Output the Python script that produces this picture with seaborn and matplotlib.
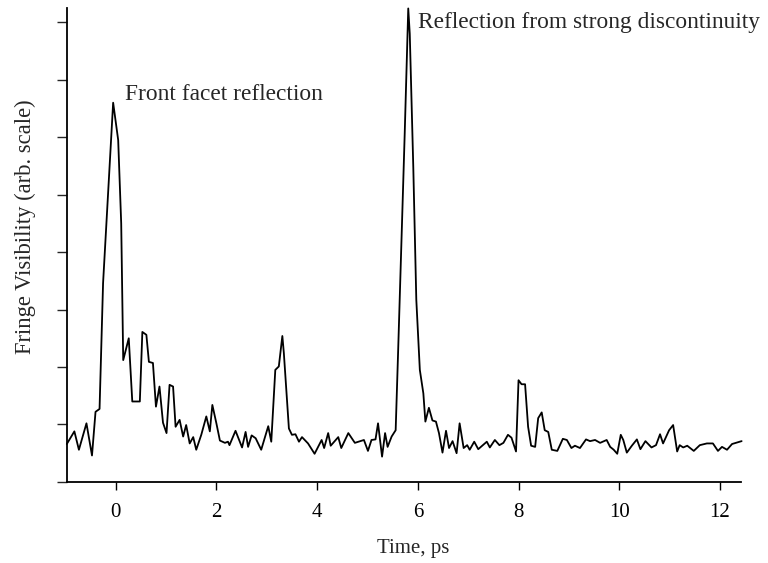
import pandas as pd
import seaborn as sns
import matplotlib.pyplot as plt

# values
time_ps = [-0.97, -0.82, -0.73, -0.58, -0.47, -0.40, -0.32, -0.25, -0.05, 0.05,
           0.11, 0.15, 0.26, 0.33, 0.48, 0.53, 0.61, 0.66, 0.74, 0.80,
           0.87, 0.94, 1.01, 1.07, 1.14, 1.19, 1.27, 1.34, 1.40, 1.47,
           1.54, 1.60, 1.70, 1.80, 1.87, 1.92, 2.00, 2.07, 2.17, 2.23,
           2.26, 2.38, 2.51, 2.58, 2.63, 2.70, 2.78, 2.89, 3.03, 3.09,
           3.17, 3.24, 3.31, 3.34, 3.44, 3.50, 3.57, 3.64, 3.70, 3.82,
           3.95, 4.09, 4.14, 4.22, 4.27, 4.42, 4.48, 4.62, 4.75, 4.93,
           5.01, 5.08, 5.16, 5.21, 5.29, 5.35, 5.40, 5.48, 5.56, 5.61,
           5.68, 5.74, 5.81, 5.84, 5.91, 5.97, 6.04, 6.11, 6.15, 6.22,
           6.29, 6.36, 6.42, 6.49, 6.56, 6.62, 6.69, 6.77, 6.83, 6.91,
           6.98, 7.03, 7.12, 7.20, 7.37, 7.43, 7.53, 7.62, 7.70, 7.79,
           7.86, 7.95, 8.00, 8.06, 8.13, 8.19, 8.25, 8.33, 8.39, 8.46,
           8.52, 8.59, 8.66, 8.77, 8.88, 8.96, 9.05, 9.12, 9.22, 9.34,
           9.42, 9.52, 9.62, 9.75, 9.82, 9.89, 9.96, 10.03, 10.08, 10.15,
           10.25, 10.35, 10.42, 10.52, 10.64, 10.73, 10.81, 10.87, 10.99, 11.07,
           11.15, 11.20, 11.27, 11.35, 11.48, 11.60, 11.74, 11.86, 11.96, 12.04,
           12.14, 12.24, 12.43]

visibility = [0.66, 0.88, 0.56, 1.02, 0.46, 1.22, 1.27, 3.46, 6.60, 5.95,
              4.50, 2.12, 2.50, 1.40, 1.40, 2.61, 2.56, 2.09, 2.07, 1.31,
              1.66, 1.03, 0.85, 1.69, 1.66, 0.96, 1.08, 0.79, 0.99, 0.67,
              0.78, 0.56, 0.82, 1.14, 0.88, 1.34, 1.02, 0.72, 0.68, 0.70,
              0.64, 0.89, 0.60, 0.87, 0.61, 0.81, 0.76, 0.56, 0.97, 0.70,
              1.95, 2.01, 2.54, 2.24, 0.93, 0.82, 0.83, 0.70, 0.78, 0.67,
              0.49, 0.73, 0.59, 0.85, 0.63, 0.78, 0.59, 0.85, 0.68, 0.73,
              0.54, 0.73, 0.74, 1.02, 0.44, 0.85, 0.61, 0.79, 0.90, 2.30,
              4.33, 6.07, 8.24, 7.80, 5.48, 3.17, 1.95, 1.54, 1.05, 1.29,
              1.07, 1.05, 0.85, 0.51, 0.89, 0.59, 0.71, 0.50, 1.02, 0.59,
              0.64, 0.56, 0.70, 0.57, 0.70, 0.60, 0.73, 0.64, 0.68, 0.82,
              0.77, 0.53, 1.77, 1.70, 1.70, 0.96, 0.63, 0.61, 1.11, 1.21,
              0.90, 0.87, 0.56, 0.54, 0.75, 0.73, 0.59, 0.63, 0.59, 0.74,
              0.71, 0.73, 0.68, 0.73, 0.61, 0.56, 0.49, 0.82, 0.73, 0.51,
              0.63, 0.74, 0.57, 0.71, 0.60, 0.64, 0.83, 0.67, 0.90, 0.99,
              0.53, 0.64, 0.60, 0.63, 0.54, 0.64, 0.67, 0.67, 0.54, 0.61,
              0.56, 0.66, 0.71]

x_ticks = [0, 2, 4, 6, 8, 10, 12]
y_ticks = [0, 1, 2, 3, 4, 5, 6, 7, 8]

sns.set_style("ticks")
plt.rcParams['font.family'] = ['Liberation Serif', 'DejaVu Serif']

df = pd.DataFrame({'t': time_ps, 'v': visibility})

fig = plt.figure(figsize=(7.68, 5.63), dpi=100)
ax = fig.add_axes([0.087, 0.144, 0.878, 0.842])
sns.lineplot(data=df, x='t', y='v', color='black', linewidth=1.3, ax=ax, clip_on=False)

ax.set_xlim(-0.97, 12.42)
ax.set_ylim(0, 8.25)
ax.set_xticks(x_ticks)
ax.set_yticks(y_ticks)
ax.set_yticklabels([])
ax.tick_params(axis='x', direction='out', length=6, width=1, labelsize=15, pad=9, colors='black')
ax.tick_params(axis='y', direction='out', length=7, width=1)
for side in ['left', 'bottom']:
    ax.spines[side].set_linewidth(1.3)
    ax.spines[side].set_color('black')
sns.despine(ax=ax)

ax.set_xlabel("Time, ps", fontsize=15)
ax.set_ylabel("Fringe Visibility (arb. scale)", fontsize=16.3)
ax.xaxis.set_label_coords(0.513, -0.141)
ax.yaxis.set_label_coords(-0.062, 0.538)
ax.xaxis.label.set_va('center')
ax.yaxis.label.set_va('center')

ax.text(0.18, 6.75, "Front facet reflection", fontsize=16.8, va='center', ha='left')
ax.text(6.0, 8.0, "Reflection from strong discontinuity", fontsize=16.8, va='center', ha='left')

plt.savefig("out.png", dpi=100)
plt.close()
